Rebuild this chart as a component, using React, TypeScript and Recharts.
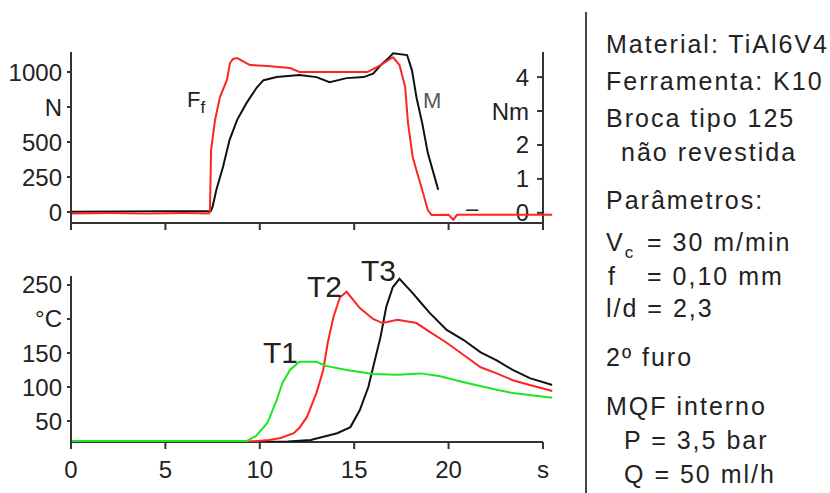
import { LineChart, Line, XAxis, YAxis, ReferenceLine } from 'recharts';

// top panel: feed force Ff (N, left axis) and torque M (Nm, right axis)
const forceTime = [0, 2, 4, 6, 7.3, 7.36, 7.42, 7.63, 7.89, 8.26, 8.42, 8.58, 8.8, 9.48, 10.4, 11.6, 12.1, 12.8, 14.6, 15.7, 16.4, 16.9, 17.06, 17.4, 17.7, 17.85, 18.1, 18.4, 18.65, 18.9, 19.1, 20.0, 20.25, 20.45, 22, 25.5];
const forceN = [-10, -8, -10, -8, -10, 0, 443, 657, 821, 943, 1064, 1093, 1100, 1050, 1043, 1028, 1000, 1000, 1000, 1000, 1050, 1093, 1105, 1050, 893, 636, 393, 250, 136, 14, -21, -20, -55, -20, -20, -20];

const torqueTime = [0, 5, 7.4, 7.5, 7.7, 8.05, 8.4, 8.8, 9.3, 9.85, 10.2, 10.9, 12.1, 13.0, 13.7, 14.6, 15.5, 16.0, 16.4, 16.8, 17.06, 17.8, 18.06, 18.3, 18.6, 18.9, 19.2, 19.45];
const torqueNm = [0.03, 0.05, 0.05, 0.18, 0.68, 1.35, 2.15, 2.74, 3.24, 3.7, 3.91, 4.0, 4.06, 4.0, 3.85, 3.97, 4.0, 4.1, 4.35, 4.55, 4.7, 4.65, 4.2, 3.4, 2.65, 1.76, 1.17, 0.68];

// bottom panel: temperatures T1, T2, T3 (°C)
const t1Time = [0, 5, 9.3, 9.8, 10.4, 10.9, 11.2, 11.6, 12.1, 13.0, 13.5, 14.6, 16.0, 17.3, 18.5, 19.5, 20.8, 22.55, 23.4, 25.5];
const t1Temp = [20.5, 20.5, 20.5, 28, 47, 81, 106, 125, 137, 137, 131, 125, 119, 118, 120, 116, 107, 96, 91, 84];

const t2Time = [0, 9.6, 10.5, 11.1, 11.8, 12.1, 12.5, 13.0, 13.36, 13.6, 13.9, 14.25, 14.6, 15.3, 16.0, 16.5, 17.3, 18.3, 19.0, 19.9, 20.8, 21.7, 22.55, 23.4, 24.3, 25.5];
const t2Temp = [20, 20, 22, 25, 32, 40, 56, 91, 125, 165, 203, 232, 240, 216, 200, 194, 199, 194, 181, 165, 147, 129, 120, 110, 103, 94];

const t3Time = [0, 10, 11.5, 12.7, 14.1, 14.8, 15.3, 15.75, 16.1, 16.4, 16.7, 17.05, 17.4, 18.1, 18.5, 19.0, 19.9, 20.8, 21.7, 22.55, 23.4, 24.3, 25.5];
const t3Temp = [19.5, 19.5, 20, 22, 32, 41, 66, 100, 140, 174, 218, 247, 259, 238, 225, 209, 184, 169, 151, 139, 125, 113, 103];

const timeTicks = [0, 5, 10, 15, 20, 25];
const timeLabels = ['0', '5', '10', '15', '20', 's'];
const forceTicks = [0, 250, 500, 750, 1000];
const forceLabels = ['0', '250', '500', 'N', '1000'];
const torqueTicks = [0, 1, 2, 3, 4];
const torqueLabels = ['0', '1', '2', 'Nm', '4'];
const tempTicks = [50, 100, 150, 200, 250];
const tempLabels = ['50', '100', '150', '°C', '250'];

const notes = [
  { text: 'Material: TiAl6V4', x: 606, y: 53 },
  { text: 'Ferramenta: K10', x: 606, y: 90 },
  { text: 'Broca tipo 125', x: 606, y: 127 },
  { text: 'não revestida', x: 621, y: 161 },
  { text: 'Parâmetros:', x: 606, y: 209 },
  { text: 'f', x: 608, y: 285 },
  { text: '= 0,10 mm', x: 647, y: 285 },
  { text: 'l/d = 2,3', x: 606, y: 317 },
  { text: '2º furo', x: 606, y: 366 },
  { text: 'MQF interno', x: 606, y: 415 },
  { text: 'P = 3,5 bar', x: 624, y: 449 },
  { text: 'Q = 50 ml/h', x: 624, y: 483 },
];

const zip = (ts: number[], vs: number[]) => ts.map((t, i) => ({ t, v: vs[i] }));

const force = zip(forceTime, forceN);
const torque = zip(torqueTime, torqueNm);
const temp1 = zip(t1Time, t1Temp);
const temp2 = zip(t2Time, t2Temp);
const temp3 = zip(t3Time, t3Temp);

const FONT = '"Liberation Sans", Arial, sans-serif';
const INK = '#222';
const AXIS = '#333';
const RED = '#ff2424';
const GREEN = '#1ee61e';
const BLACK = '#111';

const W = 830;
const H = 493;
const tickFont = { fontSize: 24, fill: INK, fontFamily: FONT };
const axisLine = { stroke: AXIS, strokeWidth: 2 };

const labelOf = (ticks: number[], labels: string[]) => (v: number) => labels[ticks.indexOf(v)] ?? '';

const layer: React.CSSProperties = { position: 'absolute', left: 0, top: 0 };

export default function App() {
  return (
    <div style={{ position: 'absolute', left: 0, top: 0, width: W, height: H, background: '#fff' }}>
      {/* torque M on right axis + top time axis (axis ends at 25 s) */}
      <div style={layer}>
        <LineChart width={W} height={H} margin={{ top: 52, right: 287, bottom: 240, left: 71 }}>
          <XAxis
            type="number"
            dataKey="t"
            domain={[0, 25]}
            ticks={timeTicks}
            tickFormatter={() => ''}
            height={30}
            tickSize={7}
            axisLine={axisLine}
            tickLine={axisLine}
            allowDataOverflow
          />
          <YAxis
            yAxisId="nm"
            orientation="right"
            mirror
            domain={[-0.3, 4.74]}
            allowDataOverflow
            ticks={torqueTicks}
            tickFormatter={labelOf(torqueTicks, torqueLabels)}
            tickSize={6}
            tickMargin={8}
            tick={tickFont}
            axisLine={axisLine}
            tickLine={axisLine}
          />
          <Line
            yAxisId="nm"
            data={torque}
            dataKey="v"
            stroke={BLACK}
            strokeWidth={2}
            dot={false}
            isAnimationActive={false}
          />
        </LineChart>
      </div>

      {/* feed force Ff on left axis */}
      <div style={layer}>
        <LineChart width={W} height={H} margin={{ top: 52, right: W - 552.4, bottom: H - 223, left: 0 }}>
          <XAxis type="number" dataKey="t" domain={[0, 25.5]} hide allowDataOverflow />
          <YAxis
            domain={[-78.6, 1143]}
            allowDataOverflow
            ticks={forceTicks}
            tickFormatter={labelOf(forceTicks, forceLabels)}
            width={71}
            tickSize={4}
            tickMargin={5}
            tick={tickFont}
            axisLine={axisLine}
            tickLine={axisLine}
          />
          <Line data={force} dataKey="v" stroke={RED} strokeWidth={2} dot={false} isAnimationActive={false} />
        </LineChart>
      </div>

      {/* temperatures */}
      <div style={layer}>
        <LineChart width={W} height={H} margin={{ top: 276, right: W - 552.4, bottom: 11, left: 0 }}>
          <XAxis
            type="number"
            dataKey="t"
            domain={[0, 25.5]}
            allowDataOverflow
            ticks={timeTicks}
            tickFormatter={labelOf(timeTicks, timeLabels)}
            height={40}
            tickSize={7}
            tickMargin={12}
            tick={tickFont}
            axisLine={false}
            tickLine={axisLine}
          />
          <YAxis
            domain={[19.1, 263.2]}
            allowDataOverflow
            ticks={tempTicks}
            tickFormatter={labelOf(tempTicks, tempLabels)}
            width={71}
            tickSize={4}
            tickMargin={5}
            tick={tickFont}
            axisLine={axisLine}
            tickLine={axisLine}
          />
          <ReferenceLine
            segment={[
              { x: 0, y: 19.1 },
              { x: 25, y: 19.1 },
            ]}
            stroke={AXIS}
            strokeWidth={2}
          />
          <Line data={temp3} dataKey="v" stroke={BLACK} strokeWidth={2} dot={false} isAnimationActive={false} />
          <Line data={temp2} dataKey="v" stroke={RED} strokeWidth={2} dot={false} isAnimationActive={false} />
          <Line data={temp1} dataKey="v" stroke={GREEN} strokeWidth={2} dot={false} isAnimationActive={false} />
        </LineChart>
      </div>

      {/* curve labels and the parameter panel */}
      <svg width={W} height={H} style={{ ...layer, pointerEvents: 'none' }} fontFamily={FONT}>
        <text x={187} y={107} fontSize={22} fill={INK}>
          F<tspan fontSize={17} dy={6}>f</tspan>
        </text>
        <text x={423} y={108} fontSize={22} fill="#555">M</text>
        <text x={466} y={216} fontSize={22} fill={INK}>–</text>
        <text x={263} y={363} fontSize={30} fill={INK}>T1</text>
        <text x={307} y={297} fontSize={30} fill={INK}>T2</text>
        <text x={361} y={281} fontSize={30} fill={INK}>T3</text>

        <line x1={586} y1={12} x2={586} y2={H} stroke="#444" strokeWidth={2} />
        <g fontSize={25} fill={INK} letterSpacing={2}>
          {notes.map((n) => (
            <text key={n.text} x={n.x} y={n.y}>
              {n.text}
            </text>
          ))}
          <text x={606} y={251}>
            V<tspan fontSize={17} dy={7}>c</tspan>
            <tspan x={647} dy={-7}>= 30 m/min</tspan>
          </text>
        </g>
      </svg>
    </div>
  );
}
